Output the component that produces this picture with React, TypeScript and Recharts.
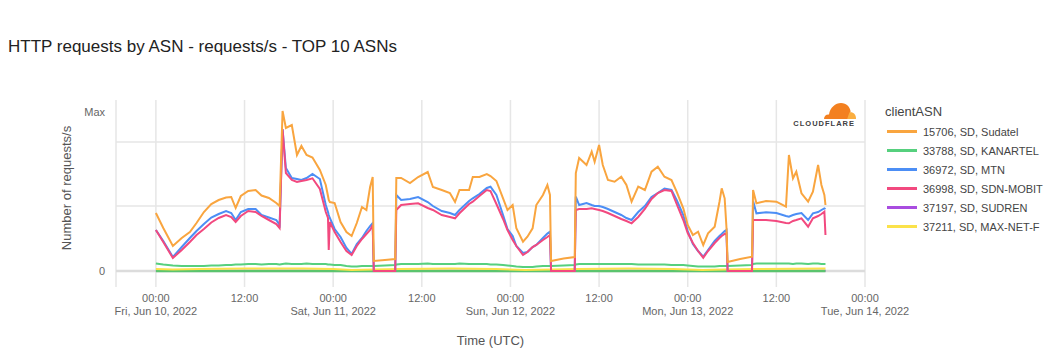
import React from 'react';
import { LineChart, Line, XAxis, YAxis, CartesianGrid, ReferenceLine, Label } from 'recharts';

// Time in hours since Fri, Jun 10, 2022 00:00 UTC
const hours = [
  0, 1, 2.3, 3.5, 4.6, 5.5, 6.5, 7.5, 8.5, 9.5, 10.2, 10.8, 11.5, 12.5, 13.5, 14.3, 15.3, 16.3, 16.75, 17.15,
  17.6, 18.4, 19.1, 19.7, 20.4, 21.2, 22.2, 23.0, 23.3, 23.4, 23.55, 24.2, 25.0, 25.8, 26.5, 27.2, 27.9, 28.5, 29.0, 29.35,
  29.5, 31.0, 32.4, 32.55, 33.2, 34.4, 35.5, 36.8, 37.5, 38.7, 39.8, 40.5, 41.1, 42.4, 42.9, 43.8, 44.8, 45.3, 46.1, 47.0,
  47.6, 48.3, 48.8, 49.7, 50.3, 51.0, 51.5, 52.4, 53.0, 53.35, 53.5, 55.2, 56.7, 56.85, 57.3, 58.3, 59.0, 59.4, 60.0, 60.5,
  61.2, 62.1, 63.0, 63.7, 64.4, 65.3, 66.2, 67.1, 67.95, 68.85, 69.8, 70.5, 71.4, 72.0, 72.7, 73.4, 74.1, 74.75, 75.65, 76.3,
  76.6, 77.0, 77.25, 77.4, 79.1, 80.7, 80.85, 81.3, 82.6, 84.0, 85.3, 85.7, 86.25, 86.7, 87.4, 88.3, 88.95, 89.65, 90.1, 90.5,
  90.65,
];

// 15706, SD, Sudatel
const sudatel = [
  58, 43, 25, 33, 39, 48, 59, 67, 71, 73.5, 74, 63, 75, 80, 81, 75.5, 73, 68, 65, 160,
  143, 146, 116, 125, 116, 113.5, 101, 86, 75, 71, 69, 68, 49, 39, 35, 48, 64, 61, 84, 94,
  10, 11, 12, 93, 93, 88, 94, 99, 84, 81, 78, 69, 81, 81, 94, 94, 97, 95, 90, 72.7,
  61, 66, 42.7, 29.3, 34.3, 42.7, 66, 76, 86, 76, 10, 12.5, 14, 98, 113, 106, 119.3, 109.3, 126, 106,
  91, 89.3, 94.3, 86, 69.3, 84.3, 81, 99.3, 104.3, 94.3, 91, 79.3, 62.7, 46, 36, 39.3, 26, 37.7, 44.3, 69.3,
  82.7, 72.7, 43, 9, 12, 14.3, 81, 67.7, 70, 69.3, 64.3, 116, 92.7, 99.3, 77.7, 69.3, 79.3, 106, 86, 76,
  66,
];

// 36972, SD, MTN
const mtn = [
  41, 30, 14, 24, 33, 40, 47, 53.5, 57, 60, 58, 51, 59, 62, 62, 56, 53.5, 51, 46, 142,
  103, 93, 92, 91, 93, 97, 92, 66, 59, 56, 53, 42, 34, 23, 17, 27, 33, 40, 45, 48,
  0, 0, 0, 76, 71, 72, 74, 69, 65, 60, 58, 56, 61, 70, 72.7, 77, 83, 84.3, 76, 56,
  42, 35, 25, 18, 19, 24, 26, 33, 37.5, 39.3, 0, 0, 0, 74.3, 66, 68, 66, 65, 65, 64,
  62, 59, 56, 53, 51, 59, 65, 74, 78, 82.5, 81, 71, 56, 40, 27, 20, 14.3, 21, 30, 35,
  37, 40, 41, 0, 0, 0, 70, 57.7, 58.7, 58, 55, 54.3, 56, 57, 58, 51, 57.7, 59, 61, 62.7,
  62,
];

// 36998, SD, SDN-MOBIT
const sdnMobit = [
  41, 29, 13, 21, 29, 36, 42, 48.5, 53, 56, 54, 49, 55, 60, 59, 55, 51, 47, 43, 142,
  98, 91, 89, 90, 91, 92.7, 82, 59, 53, 21, 49, 39, 29, 20, 16, 25, 32, 37, 41, 46,
  0, 0, 0, 61, 66, 67, 67.7, 63, 61, 56, 54, 52.7, 57.7, 67, 69.3, 75, 81, 80, 67, 52,
  41, 31, 25, 16, 19, 24, 26, 31, 34, 36, 0, 0, 0, 61, 62, 62, 62.7, 62, 61, 60,
  58, 55, 52, 50, 47.7, 54, 62, 72, 78, 81, 80, 67, 51, 38, 28, 20, 13.3, 20, 28, 33,
  35, 37, 37.7, 0, 0, 0, 51, 51, 51, 50, 48, 47.7, 50, 51, 52.7, 44.3, 52.7, 55, 57, 59.3,
  36,
];

// 33788, SD, KANARTEL
const kanartel = [
  7.5, 6.5, 5.5, 5, 5, 5, 5, 5.5, 5.5, 6, 6, 6.5, 6.5, 7, 7, 6.5, 7, 7, 6.5, 7,
  7.5, 7, 7, 7, 7.5, 7, 7, 7, 6.5, 6.5, 6.5, 6, 6, 5, 4.5, 4.5, 5, 5, 5, 5,
  5, 5.5, 6, 6.5, 7, 7, 7, 7.5, 7, 7, 7, 7, 7.5, 7, 7, 7, 7, 6.5, 6.5, 6,
  5.5, 5, 4.5, 4, 4, 4, 4.5, 5, 5, 5, 5, 5.5, 6, 6.5, 7, 7, 7, 7, 7, 7,
  7, 7, 7, 7, 7, 6.5, 6.5, 6.5, 6.5, 6.5, 6, 6, 6, 5.5, 5, 4.5, 4.5, 4.5, 4.5, 5,
  5, 5, 5, 5, 5.5, 6, 7, 7.5, 7.5, 7.5, 7.5, 7.5, 7, 7.5, 7.5, 7, 7.5, 7.5, 7, 7,
  7,
];

// 37211, SD, MAX-NET-F
const maxNetHours = [0, 2.3, 6, 12, 20, 24, 26.5, 29.5, 33, 40, 46, 50, 53.5, 57, 64, 70, 74, 77, 81, 90.65];
const maxNet = [2, 1.5, 2, 2.5, 2.5, 2, 1, 1.5, 2, 2.5, 2, 1, 1.5, 2, 2.5, 2, 1, 1.5, 2, 2.5];

// 37197, SD, SUDREN
const sudrenHours = [0, 29.5, 32.5, 53.5, 56.8, 77.4, 80.8, 90.65];
const sudren = [0.3, 0.3, 0.3, 0.3, 0.3, 0.3, 0.3, 0.3];

// remaining ASNs of the top 10 (near zero)
const otherHours = [0, 90.65];
const others = [0, 0];

const xTicks = [0, 12, 24, 36, 48, 60, 72, 84, 96];
const xTimeLabels = ['00:00', '12:00', '00:00', '12:00', '00:00', '12:00', '00:00', '12:00', '00:00'];
const xDateLabels = ['Fri, Jun 10, 2022', '', 'Sat, Jun 11, 2022', '', 'Sun, Jun 12, 2022', '', 'Mon, Jun 13, 2022', '', 'Tue, Jun 14, 2022'];
const yTicks = [0, 159];
const yTickLabels = ['0', 'Max'];
const yGridValues = [65, 129];

const legendNames = ['15706, SD, Sudatel', '33788, SD, KANARTEL', '36972, SD, MTN', '36998, SD, SDN-MOBIT', '37197, SD, SUDREN', '37211, SD, MAX-NET-F'];
const legendColors = ['#f9a53f', '#56d07e', '#4c8ef5', '#f2497f', '#a94de0', '#fbe24a'];

const rows = hours.map((h, i) => ({ h, sudatel: sudatel[i], mtn: mtn[i], sdnMobit: sdnMobit[i], kanartel: kanartel[i] }));
const maxNetRows = maxNetHours.map((h, i) => ({ h, maxNet: maxNet[i] }));
const sudrenRows = sudrenHours.map((h, i) => ({ h, sudren: sudren[i] }));
const otherRows = otherHours.map((h, i) => ({ h, others: others[i] }));

const FONT = '"Liberation Sans", Arial, Helvetica, sans-serif';

const XTick = (props: any) => {
  const { x, y, payload } = props;
  const i = xTicks.indexOf(payload.value);
  return (
    <g>
      <text x={x} y={y + 7} textAnchor="middle" fontSize={11} fill="#666" fontFamily={FONT}>{xTimeLabels[i]}</text>
      {xDateLabels[i] ? (
        <text x={x} y={y + 20} textAnchor="middle" fontSize={11} fill="#666" fontFamily={FONT}>{xDateLabels[i]}</text>
      ) : null}
    </g>
  );
};

export default function App() {
  return (
    <div style={{ position: 'relative', width: 1044, height: 344, fontFamily: FONT }}>
      <div style={{ position: 'absolute', left: 0, top: 29, fontSize: 17, lineHeight: '20px', color: '#222', whiteSpace: 'nowrap' }}>
        HTTP requests by ASN - requests/s - TOP 10 ASNs
      </div>
      <LineChart width={1044} height={344} data={rows} margin={{ top: 92, right: 187, bottom: 0, left: 0 }}>
        <CartesianGrid horizontal={false} vertical={true} stroke="#e6e6e6" strokeWidth={1.5} />
        <XAxis
          dataKey="h"
          type="number"
          domain={[-5.4, 96]}
          ticks={xTicks}
          allowDataOverflow
          axisLine={false}
          tickLine={false}
          height={65}
          tick={<XTick />}
          interval={0}
        >
          <Label content={() => (
            <text x={482.5} y={337} textAnchor="middle" fontSize={13} fill="#555" fontFamily={FONT}>Time (UTC)</text>
          )} />
        </XAxis>
        <YAxis
          type="number"
          domain={[-16, 171]}
          ticks={yTicks}
          allowDataOverflow
          axisLine={false}
          tickLine={false}
          width={108}
          tickMargin={5}
          tick={{ fontSize: 11, fill: '#666', fontFamily: FONT }}
          tickFormatter={(v: number) => yTickLabels[yTicks.indexOf(v)] ?? ''}
        >
          <Label content={() => (
            <text x={58} y={180} transform="rotate(-90 58 180)" textAnchor="middle" dominantBaseline="central" fontSize={13} fill="#555" fontFamily={FONT}>Number of requests/s</text>
          )} />
        </YAxis>
        {yGridValues.map((v) => (
          <ReferenceLine key={v} y={v} stroke="#e6e6e6" strokeWidth={1.5} />
        ))}
        <ReferenceLine y={0} stroke="#dcdcdc" strokeWidth={2.5} />
        <Line data={sudrenRows} dataKey="sudren" stroke={legendColors[4]} strokeWidth={2} dot={false} isAnimationActive={false} type="linear" />
        <Line data={otherRows} dataKey="others" stroke="#5bc46e" strokeWidth={2.5} dot={false} isAnimationActive={false} type="linear" />
        <Line data={maxNetRows} dataKey="maxNet" stroke={legendColors[5]} strokeWidth={2} dot={false} isAnimationActive={false} type="linear" />
        <Line dataKey="kanartel" stroke={legendColors[1]} strokeWidth={2} dot={false} isAnimationActive={false} type="linear" />
        <Line dataKey="mtn" stroke={legendColors[2]} strokeWidth={2} dot={false} isAnimationActive={false} type="linear" />
        <Line dataKey="sdnMobit" stroke={legendColors[3]} strokeWidth={2} dot={false} isAnimationActive={false} type="linear" />
        <Line dataKey="sudatel" stroke={legendColors[0]} strokeWidth={2} dot={false} isAnimationActive={false} type="linear" />
      </LineChart>

      <svg style={{ position: 'absolute', left: 775, top: 90 }} width={80} height={32}>
        <path d="M41,21 C41,18.5 43,16.3 46,16.6 C47,9.5 52.5,5 58,5 C63.5,5 67,9 67.6,13.2 L65.5,21 Z" fill="#f38020" />
        <path d="M64.2,21 L66.4,14.4 C70,13.6 73.2,16.4 73,21 Z" fill="#faae40" />
        <text x={72} y={27.8} textAnchor="end" fontSize={7.5} fontWeight="bold" letterSpacing={1} fill="#404041" fontFamily={FONT}>CLOUDFLARE</text>
      </svg>

      <div style={{ position: 'absolute', left: 877, top: 96, fontSize: 13, lineHeight: '16px', color: '#444', whiteSpace: 'nowrap' }}>clientASN</div>
      {legendNames.map((n, i) => (
        <div key={n} style={{ position: 'absolute', left: 879, top: 115.7 + i * 19, height: 16, display: 'flex', alignItems: 'center', whiteSpace: 'nowrap' }}>
          <span style={{ width: 30, height: 2.5, background: legendColors[i], display: 'inline-block', marginRight: 6 }} />
          <span style={{ fontSize: 11, color: '#444' }}>{n}</span>
        </div>
      ))}
    </div>
  );
}
